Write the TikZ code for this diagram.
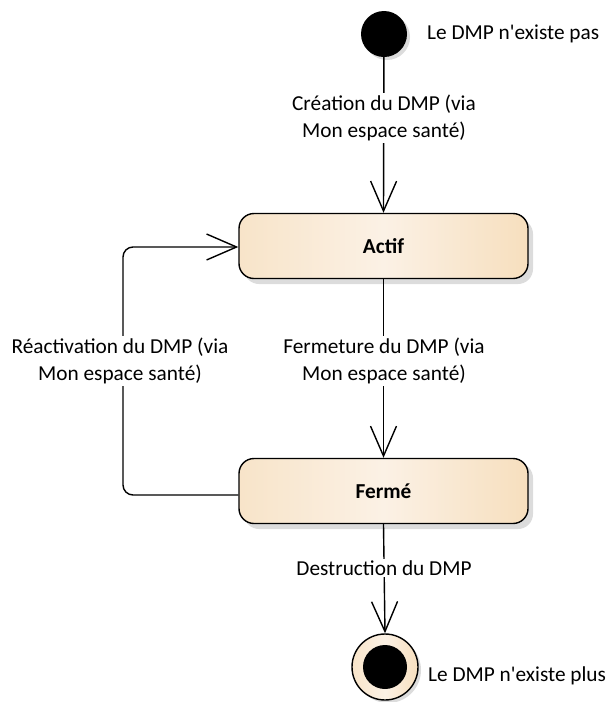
\documentclass[tikz,border=0pt]{standalone}
\usepackage{fontspec}
\setmainfont{Carlito}
\usetikzlibrary{arrows.meta,calc}
\definecolor{stL}{HTML}{F8E4C9}
\definecolor{stM}{HTML}{FBF1E5}
\definecolor{stR}{HTML}{F7DFBE}
\definecolor{shd}{HTML}{DCDCDC}
\tikzset{
  x=1pt, y=-1pt,
  txt/.style={font=\fontsize{21.3}{27.5}\selectfont},
  lbl/.style={txt, fill=white, align=center, inner sep=2pt},
  statebox/.style={draw=black, line width=1.4pt, font=\fontsize{21.3}{27.5}\selectfont\bfseries,
    rounded corners=15pt, minimum width=289pt, minimum height=65pt,
    left color=stL, right color=stR, middle color=stM},
  conn/.style={line width=1.4pt, draw=black},
  openarrow/.style={-{Straight Barb[length=30pt,width=26pt,line width=1.4pt]}},
}
\begin{document}
\begin{tikzpicture}
\useasboundingbox (0,0) rectangle (614,702);
% start
\fill[shd] (387,37) circle (23);
\node[circle, fill=black, minimum size=46pt, inner sep=0pt] (start) at (384,34) {};
\node[txt, anchor=west, inner sep=0pt] (startlbl) at (427,34) {Le DMP n\textquotesingle existe pas};
% states (shadows)
\fill[shd, rounded corners=15pt] (244,219) rectangle (533,284);
\fill[shd, rounded corners=15pt] (244,463) rectangle (533,529);
\node[statebox] (Actif) at (383.5,246) {Actif};
\node[statebox] (Ferme) at (383.5,491) {Fermé};
% final
\fill[shd] (388,670) circle (33);
\node[circle, draw=black, line width=1.4pt, minimum size=66pt, inner sep=0pt,
  left color=stL, right color=stR, middle color=stM] (fin) at (385,667) {};
\node[circle, fill=black, minimum size=44pt, inner sep=0pt] (fincore) at (385,667) {};
\node[txt, anchor=west, inner sep=0pt] (finlbl) at (428,676) {Le DMP n\textquotesingle existe plus};
% connectors
\draw[conn, openarrow] (start) -- (Actif.north);
\draw[conn, openarrow] (Actif.south) -- (Ferme.north);
\draw[conn, openarrow] (Ferme.south) -- (fin.north);
\coordinate (lb) at (123,495);
\coordinate (lt) at (123,247);
\draw[conn, openarrow, rounded corners=10pt] ($(Ferme.west)+(0,4)$) -- (lb) -- (lt) -- ($(Actif.west)+(0,1)$);
% labels
\node[lbl] (l1) at (384,118) {Création du DMP (via\\Mon espace santé)};
\node[lbl] (l2) at (384,361) {Fermeture du DMP (via\\Mon espace santé)};
\node[lbl] (l3) at (120,361) {Réactivation du DMP (via\\Mon espace santé)};
\node[lbl] (l4) at (384,568) {Destruction du DMP};
\end{tikzpicture}
\end{document}
